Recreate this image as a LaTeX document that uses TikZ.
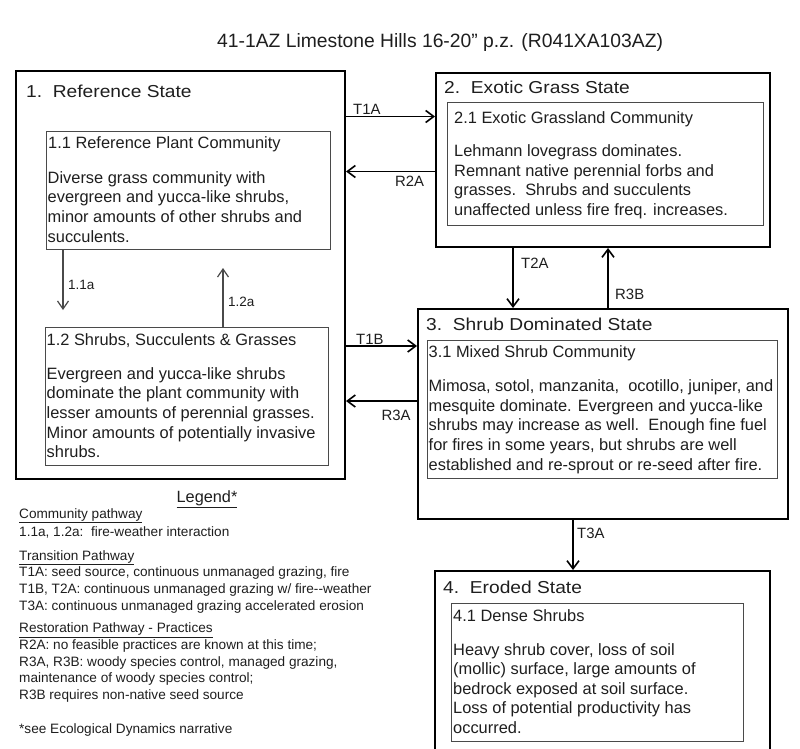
\documentclass[tikz,border=0pt]{standalone}
\usepackage{fontspec}
\setmainfont{Liberation Sans}
\usetikzlibrary{arrows.meta}
\newcommand\fsz[2]{\fontsize{#1}{#2}\selectfont}
\newcommand\lns[1]{\begin{tabular}[t]{@{}l@{}}#1\end{tabular}}
\definecolor{ink}{HTML}{1E1E1E}
\definecolor{frame}{HTML}{4A4A4A}
\begin{document}
\begin{tikzpicture}[x=1pt,y=-1pt,
  statebox/.style={draw=black, line width=2pt, anchor=north west, inner sep=0pt},
  commbox/.style={draw=frame, line width=1.3pt, anchor=north west, inner sep=0pt},
  txt/.style={anchor=base west, inner sep=0pt, text=ink},
  ttl/.style={txt, font=\fsz{19.2}{22}},
  ctl/.style={txt, font=\fsz{16.4}{19.5}},
  body/.style={txt, font=\fsz{16.4}{19.6}},
  lbl/.style={txt, font=\fsz{14.9}{17}},
  slbl/.style={txt, font=\fsz{13.5}{16}},
  leg/.style={txt, font=\fsz{13.6}{16.6}},
  arr/.style={line width=1.6pt, black, -{Straight Barb[length=8pt,width=12pt,line width=1.6pt]}},
  carr/.style={line width=1.2pt, frame, -{Straight Barb[length=8pt,width=11pt,line width=1.2pt]}}
]
\useasboundingbox (0,0) rectangle (800,749);

% title
\node[txt, font=\fsz{19.3}{22}] (title) at (217,47.3) {41-1AZ Limestone Hills 16-20” p.z. (R041XA103AZ)};

% state boxes
\node[statebox, minimum width=329pt, minimum height=408pt] (s1) at (15,70) {};
\node[statebox, minimum width=334pt, minimum height=174pt] (s2) at (435,72) {};
\node[statebox, minimum width=370pt, minimum height=210pt] (s3) at (417,308) {};
\node[statebox, minimum width=335pt, minimum height=200pt] (s4) at (434,570) {};

% community boxes
\node[commbox, minimum width=284pt, minimum height=118pt] (c11) at (46,131) {};
\node[commbox, minimum width=283pt, minimum height=138pt] (c12) at (45,327) {};
\node[commbox, minimum width=316pt, minimum height=123pt] (c21) at (447,102) {};
\node[commbox, minimum width=350pt, minimum height=138pt] (c31) at (427,340) {};
\node[commbox, minimum width=292pt, minimum height=138pt] (c41) at (451,603) {};

% state titles
\node[ttl] (t1) at (26,97.5) {\scalebox{1}[0.9]{1.\ \ Reference State}};
\node[ttl] (t2) at (444,93.3) {\scalebox{1}[0.9]{2.\ \ Exotic Grass State}};
\node[ttl] (t3) at (426,330) {\scalebox{1}[0.9]{3.\ \ Shrub Dominated State}};
\node[ttl] (t4) at (443,593) {\scalebox{1}[0.9]{4.\ \ Eroded State}};

% community titles
\node[ctl] (h11) at (48,149) {1.1 Reference Plant Community};
\node[ctl] (h12) at (46.5,345.7) {1.2 Shrubs, Succulents \& Grasses};
\node[ctl] (h21) at (454,123.3) {2.1 Exotic Grassland Community};
\node[ctl] (h31) at (428.5,357.7) {3.1 Mixed Shrub Community};
\node[ctl] (h41) at (453,621.7) {4.1 Dense Shrubs};

% community texts
\node[body] (b11) at (47.5,183.3) {\lns{Diverse grass community with\\
evergreen and yucca-like shrubs,\\
minor amounts of other shrubs and\\
succulents.}};
\node[body] (b12) at (46.5,379.3) {\lns{Evergreen and yucca-like shrubs\\
dominate the plant community with\\
lesser amounts of perennial grasses.\\
Minor amounts of potentially invasive\\
shrubs.}};
\node[body] (b21) at (454,156.7) {\lns{Lehmann lovegrass dominates.\\
Remnant native perennial forbs and\\
grasses.\ \ Shrubs and succulents\\
unaffected unless fire freq. increases.}};
\node[body] (b31) at (428.5,391.7) {\lns{Mimosa, sotol, manzanita,\ \ ocotillo, juniper, and\\
mesquite dominate. Evergreen and yucca-like\\
shrubs may increase as well.\ \ Enough fine fuel\\
for fires in some years, but shrubs are well\\
established and re-sprout or re-seed after fire.}};
\node[body] (b41) at (453,655) {\lns{Heavy shrub cover, loss of soil\\
(mollic) surface, large amounts of\\
bedrock exposed at soil surface.\\
Loss of potential productivity has\\
occurred.}};

% transitions between states
\draw[arr] (s1.east |- 0,116.5) -- (s2.west |- 0,116.5);
\draw[arr] (s2.west |- 0,171.5) -- (s1.east |- 0,171.5);
\draw[arr] (s1.east |- 0,346) -- (s3.west |- 0,346);
\draw[arr] (s3.west |- 0,401) -- (s1.east |- 0,401);
\draw[arr] (s2.south -| 513,0) -- (s3.north -| 513,0);
\draw[arr] (s3.north -| 608,0) -- (s2.south -| 608,0);
\draw[arr] (s3.south -| 573,0) -- (s4.north -| 573,0);

\node[lbl] (lT1A) at (353,114) {T1A};
\node[lbl] (lR2A) at (395,186.7) {R2A};
\node[lbl] (lT1B) at (356,344) {T1B};
\node[lbl] (lR3A) at (381.5,420.7) {R3A};
\node[lbl] (lT2A) at (521,268) {T2A};
\node[lbl] (lR3B) at (615,299) {R3B};
\node[lbl] (lT3A) at (577,538) {T3A};

% community pathways
\draw[carr] (c11.south -| 63,0) -- (63,310);
\draw[carr] (c12.north -| 223,0) -- (223,268);
\node[slbl] (l11a) at (68,289) {1.1a};
\node[slbl] (l12a) at (228,306.7) {1.2a};

% legend
\node[txt, font=\fsz{16.3}{19}, anchor=base] (legh) at (207,502.7) {\underline{Legend*}};
\node[leg] (lg1) at (19,518.3) {\underline{Community pathway}};
\node[leg] (lg2) at (19,536) {1.1a, 1.2a:\ \ fire-weather interaction};
\node[leg] (lg3) at (19,560) {\underline{Transition Pathway}};
\node[leg] (lg4) at (19,576.7) {T1A: seed source, continuous unmanaged grazing, fire};
\node[leg] (lg5) at (19,593.3) {T1B, T2A: continuous unmanaged grazing w/ fire-{}-weather};
\node[leg] (lg6) at (19,610) {T3A: continuous unmanaged grazing accelerated erosion};
\node[leg] (lg7) at (19,632.7) {\underline{Restoration Pathway - Practices}};
\node[leg] (lg8) at (19,649.3) {R2A: no feasible practices are known at this time;};
\node[leg] (lg9) at (19,666) {R3A, R3B: woody species control, managed grazing,};
\node[leg] (lg10) at (19,682.7) {maintenance of woody species control;};
\node[leg] (lg11) at (19,699.3) {R3B requires non-native seed source};
\node[leg] (lg12) at (19,733.3) {*see Ecological Dynamics narrative};
\end{tikzpicture}
\end{document}
